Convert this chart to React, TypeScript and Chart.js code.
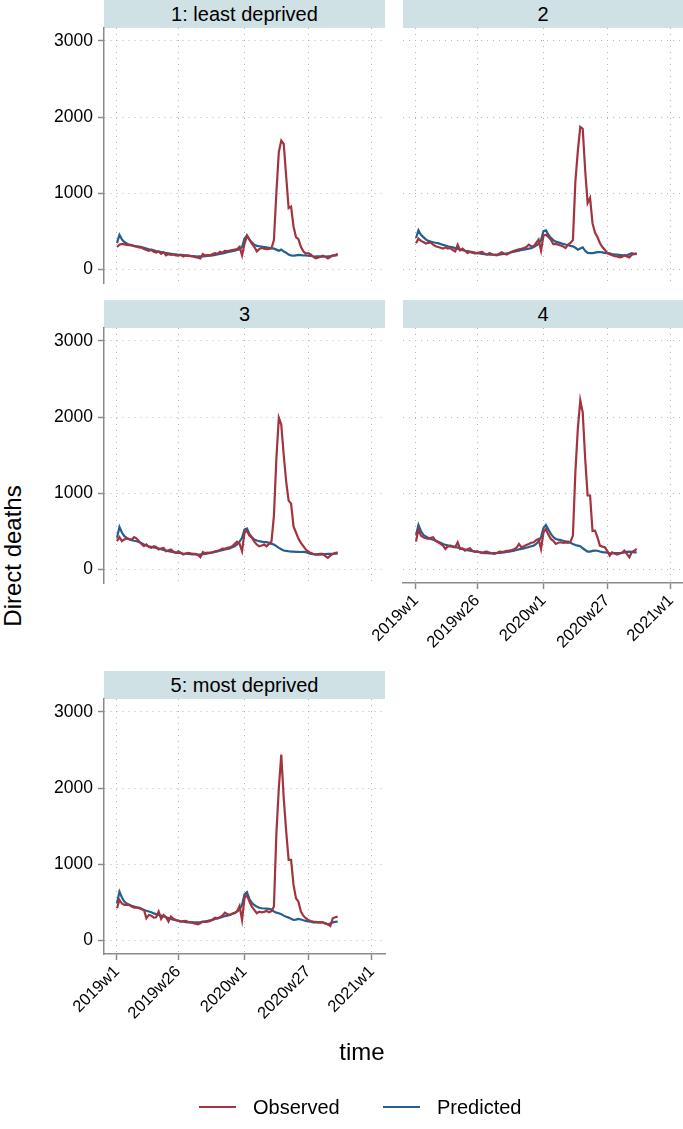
import React, { useEffect, useRef } from "react";
import { Chart, registerables } from "chart.js";

Chart.register(...registerables);

const FONT = '"Liberation Sans", Arial, Helvetica, sans-serif';

// x axis: weeks since 2019w1 (Stata weekly dates, 52 weeks per year)
const weekTickValues = [0, 25, 52, 78, 104];
const weekTickLabels = ["2019w1", "2019w26", "2020w1", "2020w27", "2021w1"];
const deathTickValues = [0, 1000, 2000, 3000];
const panelTitles = ["1: least deprived", "2", "3", "4", "5: most deprived"];
const seriesNames = ["Observed", "Predicted"];

const observed1 = [
  290, 320, 330, 325, 318, 315, 310, 300, 295, 285,
  280, 262, 250, 240, 250, 226, 215, 232, 200, 222,
  180, 196, 185, 190, 180, 176, 186, 165, 180, 176,
  170, 165, 156, 150, 140, 196, 176, 186, 180, 196,
  210, 200, 226, 215, 240, 236, 242, 250, 256, 262,
  292, 178, 330, 440, 385, 335, 292, 232, 262, 276,
  266, 260, 266, 272, 380, 1000, 1540, 1690, 1645, 1220,
  800, 820, 560, 420, 392, 292, 232, 202, 210, 192,
  162, 140, 150, 165, 176, 160, 140, 156, 176, 182,
  200,
];
const predicted1 = [
  340, 450, 390, 355, 335, 320, 315, 305, 300, 295,
  290, 280, 270, 260, 255, 245, 235, 228, 222, 215,
  210, 205, 200, 195, 192, 188, 185, 182, 178, 175,
  172, 170, 168, 165, 165, 167, 170, 172, 175, 180,
  185, 192, 198, 205, 212, 220, 228, 235, 242, 250,
  260, 290, 400, 440, 390, 350, 320, 305, 300, 295,
  290, 285, 280, 275, 268, 255, 240, 255, 230, 215,
  190, 178, 175, 180, 185, 182, 178, 180, 175, 172,
  168, 165, 165, 163, 162, 165, 168, 170, 175, 178,
  182,
];
const observed2 = [
  340, 400, 370, 355, 335, 345, 350, 320, 300, 290,
  280, 268, 285, 270, 276, 250, 232, 320, 245, 268,
  240, 210, 225, 215, 205, 210, 218, 224, 200, 189,
  210, 195, 185, 180, 200, 219, 200, 189, 210, 228,
  241, 250, 259, 265, 276, 290, 320, 300, 298, 342,
  386, 241, 440, 452, 420, 386, 329, 330, 320, 310,
  298, 276, 320, 342, 380, 1150, 1550, 1870, 1846, 1300,
  868, 934, 600, 480, 420, 342, 290, 254, 210, 195,
  180, 170, 165, 153, 160, 180, 165, 153, 189, 195,
  210,
];
const predicted2 = [
  408, 510, 450, 420, 390, 370, 360, 352, 345, 340,
  330, 318, 310, 300, 292, 285, 275, 265, 255, 248,
  240, 235, 228, 222, 215, 210, 205, 200, 196, 192,
  189, 188, 188, 189, 190, 195, 200, 205, 212, 220,
  228, 235, 242, 250, 256, 262, 268, 275, 290, 310,
  330, 380, 500, 510, 450, 410, 380, 360, 350, 340,
  330, 322, 315, 305, 298, 280, 254, 270, 285, 240,
  212, 210, 208, 215, 222, 224, 218, 212, 210, 205,
  198, 192, 189, 185, 182, 180, 180, 195, 210, 200,
  197,
];
const observed3 = [
  366, 419, 366, 390, 402, 395, 389, 419, 400, 366,
  330, 300, 322, 290, 278, 300, 290, 256, 270, 278,
  234, 245, 256, 230, 212, 234, 215, 190, 205, 212,
  205, 199, 200, 185, 155, 221, 210, 215, 212, 220,
  234, 240, 250, 269, 265, 278, 285, 300, 330, 358,
  331, 234, 477, 508, 440, 411, 360, 322, 300, 310,
  322, 300, 331, 360, 700, 1450, 1990, 1900, 1500, 1150,
  900, 860, 560, 480, 400, 344, 300, 256, 230, 212,
  200, 190, 195, 200, 199, 170, 146, 175, 199, 210,
  221,
];
const predicted3 = [
  411, 552, 480, 433, 410, 389, 380, 372, 366, 355,
  340, 322, 310, 300, 292, 285, 278, 269, 260, 250,
  242, 234, 228, 220, 215, 212, 208, 204, 201, 199,
  196, 193, 191, 190, 190, 195, 200, 206, 212, 218,
  225, 232, 240, 248, 256, 265, 272, 285, 300, 322,
  360, 411, 520, 534, 460, 420, 389, 375, 366, 360,
  355, 353, 345, 330, 322, 300, 278, 260, 243, 238,
  234, 230, 228, 225, 225, 224, 225, 222, 210, 199,
  195, 192, 190, 190, 192, 196, 199, 200, 201, 202,
  203,
];
const observed4 = [
  360, 527, 440, 418, 405, 396, 410, 418, 370, 352,
  330, 308, 264, 300, 299, 290, 286, 352, 264, 270,
  242, 260, 273, 240, 229, 229, 220, 211, 225, 229,
  215, 205, 198, 210, 229, 225, 229, 240, 242, 250,
  260, 280, 330, 286, 300, 316, 330, 345, 352, 380,
  396, 264, 484, 527, 450, 396, 370, 330, 345, 352,
  343, 350, 343, 360, 440, 1275, 1846, 2220, 2060, 1450,
  967, 967, 500, 505, 420, 308, 295, 286, 240, 176,
  220, 205, 189, 200, 215, 242, 200, 154, 220, 240,
  264,
];
const predicted4 = [
  440, 580, 500, 450, 430, 410, 396, 385, 374, 360,
  345, 330, 320, 312, 308, 300, 292, 282, 273, 262,
  255, 248, 240, 235, 230, 229, 222, 215, 210, 208,
  207, 208, 210, 211, 212, 215, 220, 225, 229, 235,
  242, 250, 258, 264, 272, 280, 290, 300, 308, 330,
  360, 420, 540, 580, 520, 462, 420, 395, 387, 380,
  372, 365, 360, 345, 330, 316, 308, 300, 273, 250,
  229, 230, 238, 242, 240, 230, 222, 220, 215, 207,
  207, 208, 210, 211, 212, 218, 225, 229, 225, 220,
  220,
];
const observed5 = [
  418, 527, 480, 462, 465, 462, 440, 426, 430, 418,
  405, 396, 286, 330, 320, 295, 300, 374, 277, 330,
  300, 242, 308, 280, 264, 255, 242, 250, 251, 240,
  233, 225, 215, 207, 220, 242, 240, 242, 250, 270,
  295, 286, 300, 320, 360, 340, 330, 345, 352, 380,
  448, 264, 550, 593, 506, 440, 396, 352, 374, 365,
  370, 382, 365, 380, 440, 1400, 2000, 2440, 1870, 1430,
  1055, 1055, 725, 550, 505, 374, 320, 286, 264, 250,
  242, 240, 233, 236, 230, 215, 207, 185, 286, 300,
  308,
];
const predicted5 = [
  483, 637, 560, 506, 480, 462, 450, 440, 430, 426,
  410, 396, 385, 375, 365, 350, 340, 330, 321, 310,
  300, 290, 277, 268, 260, 251, 245, 240, 236, 233,
  233, 232, 232, 233, 235, 240, 245, 251, 258, 265,
  277, 285, 295, 305, 315, 321, 330, 345, 360, 374,
  400, 462, 600, 629, 540, 490, 460, 440, 425, 418,
  415, 412, 409, 400, 374, 360, 352, 340, 321, 305,
  295, 280, 264, 268, 277, 270, 260, 251, 245, 240,
  233, 233, 232, 233, 233, 220, 207, 215, 233, 238,
  242,
];

const OBS_COLOR = "#a3343f";
const PRED_COLOR = "#245f8f";
const AXIS_COLOR = "#8a8a8a";
const GRID_COLOR = "#b4b4b4";
const STRIP_COLOR = "#d0e1e5";

const X_MIN = -5.3;
const PX_PER_WEEK = 255 / 104;
const Y_MIN = -184;
const Y_MAX = 3171;
const PLOT_H = 255;

type PanelProps = {
  title: string;
  observed: number[];
  predicted: number[];
  plotLeft: number;
  plotTop: number;
  plotWidth: number;
  showY: boolean;
  showX: boolean;
};

function Panel(p: PanelProps) {
  const ref = useRef<HTMLCanvasElement | null>(null);
  const yW = 64;
  const padT = 22;
  const padR = 10;
  const padB = 22;
  const xH = p.showX ? 72 : 0;
  const cw = yW + p.plotWidth + padR;
  const ch = padT + PLOT_H + xH + padB;
  const xMax = X_MIN + p.plotWidth / PX_PER_WEEK;

  useEffect(() => {
    if (!ref.current) return;
    const chart = new Chart(ref.current, {
      type: "line",
      data: {
        datasets: [
          {
            label: seriesNames[0],
            data: p.observed.map((v, i) => ({ x: i, y: v })),
            borderColor: OBS_COLOR,
            backgroundColor: OBS_COLOR,
            borderWidth: 2.2,
            pointRadius: 0,
            tension: 0,
            fill: false,
          },
          {
            label: seriesNames[1],
            data: p.predicted.map((v, i) => ({ x: i, y: v })),
            borderColor: PRED_COLOR,
            backgroundColor: PRED_COLOR,
            borderWidth: 2.2,
            pointRadius: 0,
            tension: 0,
            fill: false,
          },
        ],
      },
      options: {
        animation: false,
        responsive: false,
        devicePixelRatio: 1,
        events: [],
        layout: { padding: { left: 0, top: padT, right: padR, bottom: padB } },
        plugins: { legend: { display: false }, tooltip: { enabled: false } },
        scales: {
          x: {
            type: "linear",
            min: X_MIN,
            max: xMax,
            afterBuildTicks: (s: any) => {
              s.ticks = weekTickValues.map((v) => ({ value: v }));
            },
            afterFit: (s: any) => {
              s.height = xH;
            },
            border: { display: p.showX, color: AXIS_COLOR, width: 1.5, dash: [1, 5] },
            grid: {
              color: GRID_COLOR,
              lineWidth: 1,
              drawTicks: p.showX,
              tickLength: 6,
              tickColor: AXIS_COLOR,
              tickWidth: 1.5,
              tickBorderDash: [],
            },
            ticks: {
              display: p.showX,
              autoSkip: false,
              minRotation: 45,
              maxRotation: 45,
              padding: 2,
              color: "#000",
              font: { family: FONT, size: 16.5 },
              callback: (_v: any, i: number) => weekTickLabels[i] ?? "",
            },
          },
          y: {
            type: "linear",
            min: Y_MIN,
            max: Y_MAX,
            afterBuildTicks: (s: any) => {
              s.ticks = deathTickValues.map((v) => ({ value: v }));
            },
            afterFit: (s: any) => {
              s.width = yW;
            },
            border: { display: p.showY, color: AXIS_COLOR, width: 1.5, dash: [1, 5] },
            grid: {
              color: GRID_COLOR,
              lineWidth: 1,
              drawTicks: p.showY,
              tickLength: 6,
              tickColor: AXIS_COLOR,
              tickWidth: 1.5,
              tickBorderDash: [],
            },
            ticks: {
              display: p.showY,
              padding: 5,
              color: "#000",
              font: { family: FONT, size: 17.5 },
              callback: (v: any) => String(v),
            },
          },
        },
      },
    });
    return () => chart.destroy();
  }, []);

  return (
    <>
      <div
        style={{
          position: "absolute",
          left: p.plotLeft,
          top: p.plotTop - 28,
          width: p.plotWidth,
          height: 28,
          background: STRIP_COLOR,
          color: "#000",
          fontFamily: FONT,
          fontSize: 20,
          lineHeight: "28px",
          textAlign: "center",
          whiteSpace: "nowrap",
        }}
      >
        {p.title}
      </div>
      <canvas
        ref={ref}
        width={cw}
        height={ch}
        style={{
          position: "absolute",
          left: p.plotLeft - yW,
          top: p.plotTop - padT,
          width: cw,
          height: ch,
        }}
      />
    </>
  );
}

export default function App() {
  return (
    <div
      style={{
        position: "absolute",
        left: 0,
        top: 0,
        width: 683,
        height: 1129,
        overflow: "hidden",
        background: "#fff",
        fontFamily: FONT,
      }}
    >
      <Panel title={panelTitles[0]} observed={observed1} predicted={predicted1} plotLeft={104} plotTop={28} plotWidth={281} showY={true} showX={false} />
      <Panel title={panelTitles[1]} observed={observed2} predicted={predicted2} plotLeft={403} plotTop={28} plotWidth={280} showY={false} showX={false} />
      <Panel title={panelTitles[2]} observed={observed3} predicted={predicted3} plotLeft={104} plotTop={328} plotWidth={281} showY={true} showX={false} />
      <Panel title={panelTitles[3]} observed={observed4} predicted={predicted4} plotLeft={403} plotTop={328} plotWidth={280} showY={false} showX={true} />
      <Panel title={panelTitles[4]} observed={observed5} predicted={predicted5} plotLeft={104} plotTop={699} plotWidth={281} showY={true} showX={true} />

      <div
        style={{
          position: "absolute",
          left: 13,
          top: 556,
          transform: "translate(-50%, -50%) rotate(-90deg)",
          fontSize: 24,
          color: "#000",
          whiteSpace: "nowrap",
        }}
      >
        Direct deaths
      </div>
      <div
        style={{
          position: "absolute",
          left: 362,
          top: 1052,
          transform: "translate(-50%, -50%)",
          fontSize: 24,
          color: "#000",
          whiteSpace: "nowrap",
        }}
      >
        time
      </div>

      <div style={{ position: "absolute", left: 199, top: 1106, width: 37, height: 2, background: OBS_COLOR }} />
      <div
        style={{
          position: "absolute",
          left: 253,
          top: 1107,
          transform: "translateY(-50%)",
          fontSize: 20,
          color: "#000",
          whiteSpace: "nowrap",
        }}
      >
        {seriesNames[0]}
      </div>
      <div style={{ position: "absolute", left: 383, top: 1106, width: 37, height: 2, background: PRED_COLOR }} />
      <div
        style={{
          position: "absolute",
          left: 437,
          top: 1107,
          transform: "translateY(-50%)",
          fontSize: 20,
          color: "#000",
          whiteSpace: "nowrap",
        }}
      >
        {seriesNames[1]}
      </div>
    </div>
  );
}
